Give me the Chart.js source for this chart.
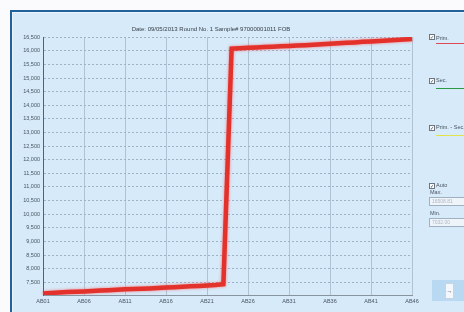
<!DOCTYPE html>
<html>
<head>
<meta charset="utf-8">
<script src="https://cdn.jsdelivr.net/npm/chart.js@4.4.1/dist/chart.umd.min.js"></script>
<style>
  html, body { margin:0; padding:0; background:#fbfbfd; width:464px; height:312px; overflow:hidden; font-family:"Liberation Sans", Arial, sans-serif; }
  #frame { position:absolute; left:10px; top:10px; width:454px; height:302px; background:#d6eaf9; border-top:2px solid #22629b; border-left:2px solid #22629b; box-sizing:border-box; box-shadow: inset 1px 1px 0 #eaf4fc; }
  #c { position:absolute; left:0; top:0; }
  .p { position:absolute; font-size:5.5px; color:#4a5560; white-space:nowrap; line-height:6px; }
  .cb { position:absolute; width:4px; height:4px; border:1px solid #6d7680; background:#fff; font-size:5px; line-height:4px; text-align:center; color:#333; overflow:hidden; }
  .ln { position:absolute; height:1px; left:436px; width:28px; }
  .inp { position:absolute; left:429px; width:40px; height:9px; border:1px solid #9fb0c0; background:#eef4fa; box-sizing:border-box; font-size:5px; color:#b0b8c0; line-height:7px; padding-left:2px; }
  #btn { position:absolute; left:432px; top:280px; width:32px; height:21px; background:#b9d8f2; }
  #btnin { position:absolute; left:445px; top:283px; width:9px; height:16px; background:#f4f8fc; border:1px solid #c8d4e0; box-sizing:border-box; font-size:6px; line-height:14px; text-align:center; color:#333; }
</style>
</head>
<body>
<div id="frame"></div>
<canvas id="c" width="464" height="312"></canvas>

<div class="cb" style="left:429px;top:34px;">✓</div><div class="p" style="left:436px;top:35px;">Prim.</div>
<div class="ln" style="top:43px;background:#e04a52;"></div>
<div class="cb" style="left:429px;top:78px;">✓</div><div class="p" style="left:436px;top:77px;">Sec.</div>
<div class="ln" style="top:88px;background:#2f9a45;"></div>
<div class="cb" style="left:429px;top:125px;">✓</div><div class="p" style="left:436px;top:124px;">Prim. - Sec.</div>
<div class="ln" style="top:135px;background:#e2e24a;"></div>
<div class="cb" style="left:429px;top:183px;">✓</div><div class="p" style="left:436px;top:182px;">Auto</div>
<div class="p" style="left:430px;top:189px;">Max.</div>
<div class="inp" style="top:197px;">16508.81</div>
<div class="p" style="left:430px;top:210px;">Min.</div>
<div class="inp" style="top:218px;">7032.00</div>
<div id="btn"></div>
<div id="btnin">→</div>

<script>
const titleText = "Date: 09/05/2013 Round No. 1 Sample# 97000001011 FOB";
const categories = ["AB01","AB02","AB03","AB04","AB05","AB06","AB07","AB08","AB09","AB10",
  "AB11","AB12","AB13","AB14","AB15","AB16","AB17","AB18","AB19","AB20",
  "AB21","AB22","AB23","AB24","AB25","AB26","AB27","AB28","AB29","AB30",
  "AB31","AB32","AB33","AB34","AB35","AB36","AB37","AB38","AB39","AB40",
  "AB41","AB42","AB43","AB44","AB45","AB46"];
const primValues = [7090,7110,7125,7140,7150,7165,7180,7195,7210,7225,
  7240,7250,7265,7275,7290,7305,7320,7335,7350,7365,
  7380,7400,7430,16080,16095,16110,16125,16140,16150,16165,
  16180,16195,16210,16225,16245,16260,16280,16295,16310,16330,
  16345,16365,16380,16400,16415,16435];
const yTicks = [7500,8000,8500,9000,9500,10000,10500,11000,11500,12000,12500,13000,13500,14000,14500,15000,15500,16000,16500];
const yMin = 7032.00;
const yMax = 16508.81;

const glow = {
  id: 'glow',
  beforeDatasetsDraw(chart) { const c = chart.ctx; c.save(); c.shadowColor = 'rgba(255,90,90,0.75)'; c.shadowBlur = 3; },
  afterDatasetsDraw(chart) { chart.ctx.restore(); }
};

new Chart(document.getElementById('c'), {
  type: 'line',
  data: {
    labels: categories,
    datasets: [{
      label: 'Prim.',
      data: primValues,
      borderColor: '#e3322c',
      borderWidth: 4.5,
      pointRadius: 0,
      tension: 0,
      fill: false,
      borderJoinStyle: 'miter',
      borderCapStyle: 'butt'
    }]
  },
  options: {
    responsive: false,
    animation: false,
    layout: { padding: { left: 10, right: 52, top: 26, bottom: 0 } },
    plugins: {
      legend: { display: false },
      tooltip: { enabled: false },
      title: {
        display: true,
        text: titleText,
        color: '#3a4048',
        font: { family: '"Liberation Sans", Arial, sans-serif', size: 6, weight: 'normal', lineHeight: 1.0 },
        padding: { top: 0, bottom: 5 }
      }
    },
    scales: {
      x: {
        type: 'category',
        offset: false,
        afterFit(s) { s.height = 17; },
        grid: {
          drawTicks: false,
          color: (ctx) => (ctx.index % 5 === 0 ? '#b0c2d3' : 'rgba(0,0,0,0)'),
          lineWidth: 1
        },
        border: { display: true, color: '#8a949e', width: 1 },
        ticks: {
          autoSkip: false,
          maxRotation: 0,
          padding: 3,
          color: '#4a5560',
          font: { family: '"Liberation Sans", Arial, sans-serif', size: 5.5 },
          callback(v, i) { return i % 5 === 0 ? categories[i] : ''; }
        }
      },
      y: {
        min: yMin,
        max: yMax,
        afterFit(s) { s.width = 33; },
        afterBuildTicks(s) { s.ticks = yTicks.map(v => ({ value: v })); },
        grid: { drawTicks: false, color: '#9fb3c6', lineWidth: 1 },
        border: { display: true, color: '#5a6068', width: 1, dash: [2, 2] },
        ticks: {
          padding: 3,
          color: '#4a5560',
          font: { family: '"Liberation Sans", Arial, sans-serif', size: 5.5 },
          callback(v) { return v.toLocaleString('en-US'); }
        }
      }
    }
  },
  plugins: [glow]
});
</script>
</body>
</html>
